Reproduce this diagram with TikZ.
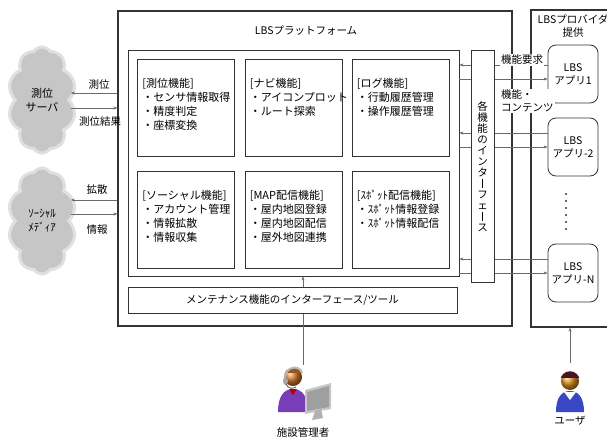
\documentclass[tikz,border=0pt]{standalone}
\usepackage{fontspec}
\usepackage{graphicx}
\setmainfont{Noto Sans CJK JP}
\usetikzlibrary{shapes.symbols,arrows.meta}

\definecolor{linegray}{HTML}{333333}
\definecolor{conngray}{HTML}{6A6A6A}
\definecolor{cloudgray}{HTML}{C6C6C6}
\definecolor{suitpurple}{HTML}{7A3DB8}
\definecolor{suitblue}{HTML}{3848C4}
\definecolor{skin}{HTML}{D9792A}
\definecolor{hairdark}{HTML}{4A1424}

% long vowel mark for vertical text
\newcommand\vchoon{\makebox[1em]{\rule[-0.02em]{0.07em}{0.82em}}}

\tikzset{
  frame/.style={draw=linegray,line width=1.1pt},
  box/.style={draw=linegray,line width=0.8pt,fill=white,inner sep=0pt},
  funcbox/.style={box,minimum width=97,minimum height=97},
  appbox/.style={box,rounded corners=8pt,minimum width=50,minimum height=58,align=center,
    font=\fontsize{10.5}{13}\selectfont},
  ftext/.style={anchor=north west,inner sep=0pt,align=left,font=\fontsize{11}{14}\selectfont},
  lbl/.style={inner sep=1pt,font=\fontsize{10.5}{13}\selectfont},
  conn/.style={draw=conngray,line width=0.6pt,-{Stealth[length=4pt,width=3pt]}},
  cloudsh/.style={cloud,cloud puffs=10,cloud puff arc=115,aspect=0.65,fill=cloudgray,
    draw=cloudgray!55,line width=3pt,minimum width=68,minimum height=106,align=center,
    font=\fontsize{11}{14}\selectfont}
}

\begin{document}
\begin{tikzpicture}[x=1pt,y=-1pt]
  \useasboundingbox (0,0) rectangle (607,439);

  % Rows of the connectors
  \coordinate (r93) at (0,93);
  \coordinate (r108) at (0,108);
  \coordinate (r200) at (0,200);
  \coordinate (r214) at (0,214);
  \coordinate (a65) at (0,65);
  \coordinate (a79) at (0,79);
  \coordinate (a133) at (0,133);
  \coordinate (a147) at (0,147);
  \coordinate (a259) at (0,259);
  \coordinate (a273) at (0,273);

  % Platform and provider frames
  \node[frame,minimum width=394,minimum height=315] (plat) at (315,168.5) {};
  \node[frame,minimum width=109,minimum height=317] (prov) at (585.5,168.5) {};
  \node[lbl] (platT) at (306,31) {LBSプラットフォーム};
  \node[lbl,align=center] (provT) at (573,26) {LBSプロバイダ\\提供};

  % Inner block with the six functions
  \node[box,minimum width=331,minimum height=226] (inner) at (293.5,163) {};
  \node[funcbox] (pos) at (186,108) {};
  \node[funcbox] (navi) at (293.5,108) {};
  \node[funcbox] (log) at (400.5,108) {};
  \node[funcbox] (soc) at (186,219.5) {};
  \node[funcbox] (map) at (293.5,219.5) {};
  \node[funcbox] (spot) at (400.5,219.5) {};

  \node[ftext] (posT) at ([shift={(5,19)}]pos.north west)
    {[測位機能]\\・センサ情報取得\\・精度判定\\・座標変換};
  \node[ftext] (naviT) at ([shift={(5,19)}]navi.north west)
    {[ナビ機能]\\・アイコンプロット\\・ルート探索};
  \node[ftext] (logT) at ([shift={(5,19)}]log.north west)
    {[ログ機能]\\・行動履歴管理\\・操作履歴管理};
  \node[ftext] (socT) at ([shift={(5,19)}]soc.north west)
    {[ソーシャル機能]\\・アカウント管理\\・情報拡散\\・情報収集};
  \node[ftext] (mapT) at ([shift={(5,19)}]map.north west)
    {[MAP配信機能]\\・屋内地図登録\\・屋内地図配信\\・屋外地図連携};
  \node[ftext] (spotT) at ([shift={(5,19)}]spot.north west)
    {[ｽﾎﾟｯﾄ配信機能]\\・ｽﾎﾟｯﾄ情報登録\\・ｽﾎﾟｯﾄ情報配信};

  % Clouds on the left
  \node[cloudsh] (srv) at (42,100) {測位\\サーバ};
  \node[cloudsh] (sns) at (42,221) {ｿｰｼｬﾙ\\ﾒﾃﾞｨｱ};

  % Apps of the provider
  \node[appbox] (app1) at (573,74) {LBS\\アプリ1};
  \node[appbox] (app2) at (573,147) {LBS\\アプリ-2};
  \node[appbox] (appN) at (573,273) {LBS\\アプリ-N};
  \foreach \y in {194,201,208,215,222,229}
    \fill[linegray] (566,\y) circle (1.1);

  % Connectors
  \draw[conn] (plat.west |- r93) -- (srv.east |- r93);
  \draw[conn] (srv.east |- r108) -- (plat.west |- r108);
  \draw[conn] (plat.west |- r200) -- (sns.east |- r200);
  \draw[conn] (sns.east |- r214) -- (plat.west |- r214);
  \draw[conn] (app1.west |- a65) -- (inner.east |- a65);
  \draw[conn] (inner.east |- a79) -- (app1.west |- a79);
  \draw[conn] (app2.west |- a133) -- (inner.east |- a133);
  \draw[conn] (inner.east |- a147) -- (app2.west |- a147);
  \draw[conn] (appN.west |- a259) -- (inner.east |- a259);
  \draw[conn] (inner.east |- a273) -- (appN.west |- a273);

  % Interface column, over the connectors
  \node[box,minimum width=23,minimum height=232] (ifc) at (482.5,166) {};
  \node[inner sep=0pt,align=center,font=\fontsize{10.5}{11}\selectfont] (ifcT) at (482.5,167)
    {各\\機\\能\\の\\イ\\ン\\タ\\\vchoon\\フ\\ェ\\\vchoon\\ス};

  % Labels
  \node[lbl] (lPos) at (99,85) {測位};
  \node[lbl] (lRes) at (100,122) {測位結果};
  \node[lbl] (lSpr) at (97,190) {拡散};
  \node[lbl] (lInf) at (97,230) {情報};
  \node[lbl,fill=white] (lReq) at (522,60) {機能要求};
  \node[lbl,fill=white,align=left,anchor=west] (lCnt) at (500,101) {機能・\\コンテンツ};

  % Maintenance and the administrator
  \coordinate (mgr) at (303,365);
  \draw[conn] (mgr) -- (inner.south -| mgr);
  \node[box,minimum width=329,minimum height=26,font=\fontsize{10.5}{13}\selectfont] (mnt) at (292.5,300)
    {メンテナンス機能のインターフェース/ツール};

  % Administrator figure
  \fill[suitpurple] (278,412) .. controls (278,396) and (284,389) .. (293,389)
    .. controls (302,389) and (308,396) .. (308,412) -- cycle;
  \fill[red!70!black] (289,389) -- (297,389) -- (293,395) -- cycle;
  \shade[ball color=skin] (293,377) circle (9);
  \begin{scope}
    \clip (282,365) rectangle (305,372);
    \fill[skin!70!black] (293,377) circle (9.3);
  \end{scope}
  \draw[gray!55,line width=2pt] (285,381) .. controls (283,366) and (300,364) .. (302,373);
  \fill[gray!70] (285.5,381) ellipse (2.5 and 4);
  \draw[black!70,line width=0.8pt] (286,384) .. controls (288,389) and (293,389) .. (296,387);
  \fill[gray!45] (305,390) -- (331,383) -- (331,409) -- (305,414) -- cycle;
  \fill[gray!75] (307,392) -- (329,386) -- (329,407) -- (307,411) -- cycle;
  \fill[gray!60] (315,411) -- (321,409) -- (323,418) -- (312,420) -- cycle;
  \node[lbl] (mgrT) at (303,432) {施設管理者};

  % User and figure
  \coordinate (usr) at (570,363);
  \draw[conn] (usr) -- (prov.south -| usr);
  \fill[suitblue] (556,412) .. controls (556,397) and (562,391) .. (570,391)
    .. controls (578,391) and (584,397) .. (584,412) -- cycle;
  \fill[white] (564,392) -- (570,400) -- (576,392) -- cycle;
  \shade[ball color=skin!80!yellow] (570,381) circle (9);
  \begin{scope}
    \clip (558,368) rectangle (582,377);
    \fill[hairdark] (570,381) circle (9.8);
  \end{scope}
  \node[lbl] (usrT) at (570,421) {ユーザ};
\end{tikzpicture}
\end{document}
